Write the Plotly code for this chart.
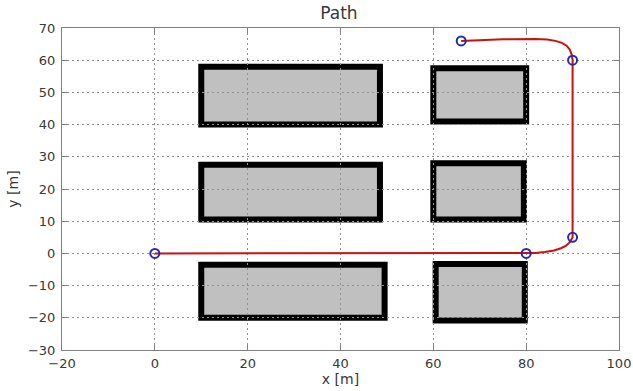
import plotly.graph_objects as go

# Obstacles (rectangles): x0, x1, y0, y1
obs_x0 = [10, 10, 10, 60, 60, 60.5]
obs_x1 = [48.5, 48.5, 49.5, 80, 79.5, 79.7]
obs_y0 = [40, 10.5, -20, 41, 10.5, -20.8]
obs_y1 = [58, 27.5, -3.5, 57.5, 28, -3.3]

# Path
path_x = [0, 20, 40, 60, 80, 82, 84, 86, 87.5, 88.6, 89.4, 90, 90, 90, 90, 89.8, 89.4, 88.7, 87.7, 86.3, 84.5, 82, 75, 66]
path_y = [0, 0, 0, 0, 0, 0.1, 0.4, 0.9, 1.6, 2.4, 3.5, 5, 20, 40, 60, 61.8, 63.3, 64.5, 65.4, 66.0, 66.4, 66.6, 66.5, 66]

# Waypoints
wp_x = [0, 80, 90, 90, 66]
wp_y = [0, 0, 5, 60, 66]

x_ticks = [-20, 0, 20, 40, 60, 80, 100]
y_ticks = [-30, -20, -10, 0, 10, 20, 30, 40, 50, 60, 70]

FONT = "DejaVu Sans, Arial"
TXT = "#383838"

fig = go.Figure()

fig.add_trace(go.Scatter(x=path_x, y=path_y, mode="lines",
                         line=dict(color="#cc1010", width=2),
                         hoverinfo="skip", showlegend=False))
fig.add_trace(go.Scatter(x=wp_x, y=wp_y, mode="markers",
                         marker=dict(symbol="circle-open", size=9, color="#2a2aa8",
                                     line=dict(width=2)),
                         showlegend=False))

for a, b, c, d in zip(obs_x0, obs_x1, obs_y0, obs_y1):
    fig.add_shape(type="rect", x0=a, x1=b, y0=c, y1=d, xref="x", yref="y",
                  fillcolor="#c0c0c0", line=dict(color="black", width=6), layer="below")

axis_common = dict(showline=True, mirror="ticks", linecolor="#808080", linewidth=1,
                   ticks="inside", ticklen=5, tickcolor="#808080",
                   showgrid=True, gridcolor="#909090", gridwidth=1, griddash="2px,3px",
                   zeroline=False, automargin=False,
                   tickfont=dict(family=FONT, size=13, color=TXT))

fig.update_xaxes(range=[-20, 100], tickvals=x_ticks, **axis_common, ticklabelstandoff=1,
                 title=dict(text="x [m]", standoff=4, font=dict(family=FONT, size=14, color=TXT)))
fig.update_yaxes(range=[-30, 70], tickvals=y_ticks, **axis_common, ticklabelstandoff=3,
                 title=dict(text="y [m]", standoff=6, font=dict(family=FONT, size=14, color=TXT)))

fig.update_layout(
    width=633, height=391,
    margin=dict(l=62, r=14, t=28, b=41, autoexpand=False),
    paper_bgcolor="white", plot_bgcolor="white",
    title=dict(text="Path", x=0.5355, xanchor="center", y=1 - 13 / 391, yanchor="middle",
               automargin=False, font=dict(family=FONT, size=17, color=TXT)),
)

fig.write_html("out.html", config={"displayModeBar": False},
               post_script="document.body.style.margin='0';")
